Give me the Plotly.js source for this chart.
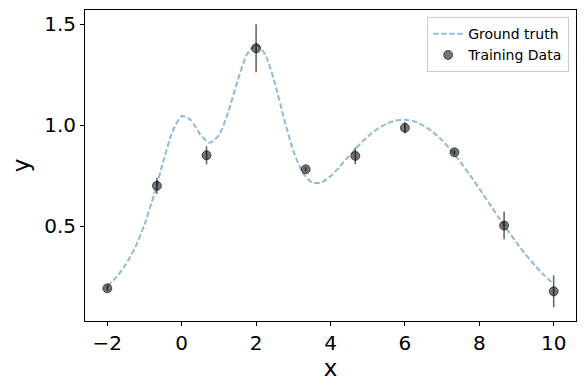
<!DOCTYPE html>
<html>
<head>
<meta charset="utf-8">
<script src="https://cdn.plot.ly/plotly-3.0.1.min.js"></script>
<style>html,body{margin:0;padding:0;background:#fff}#plot{width:586px;height:390px}</style>
</head>
<body>
<div id="plot"></div>
<script>
// Ground truth curve
var truthX = [-2,-1.75,-1.5,-1.25,-1,-0.75,-0.5,-0.25,0,0.25,0.5,0.75,1,1.25,1.5,1.75,2,2.25,2.5,2.75,3,3.25,3.5,3.75,4,4.25,4.5,4.75,5,5.25,5.5,5.75,6,6.25,6.5,6.75,7,7.25,7.5,7.75,8,8.25,8.5,8.75,9,9.25,9.5,9.75,10];
var truthY = [0.202,0.249,0.311,0.395,0.508,0.651,0.817,0.968,1.046,1.025,0.954,0.913,0.950,1.065,1.219,1.350,1.402,1.349,1.211,1.034,0.874,0.766,0.716,0.716,0.747,0.795,0.848,0.898,0.943,0.980,1.007,1.023,1.027,1.019,0.998,0.967,0.925,0.874,0.816,0.753,0.686,0.617,0.549,0.482,0.419,0.359,0.305,0.256,0.212];

// Training data with error bars
var trainX = [-2,-0.667,0.667,2,3.333,4.667,6,7.333,8.667,10];
var trainY = [0.192,0.700,0.851,1.381,0.782,0.848,0.987,0.866,0.503,0.177];
var trainErr = [0.012,0.040,0.045,0.119,0.010,0.041,0.028,0.012,0.068,0.079];

var xTicks = [-2,0,2,4,6,8,10];
var xTickText = ['\u22122','0','2','4','6','8','10'];
var yTicks = [0.5,1.0,1.5];
var yTickText = ['0.5','1.0','1.5'];

var font = 'DejaVu Sans, sans-serif';

var traces = [
  {
    x: truthX, y: truthY, type: 'scatter', mode: 'lines', name: 'Ground truth',
    line: {color: 'rgba(31,119,180,0.5)', width: 2, dash: '5.5px,2.6px', shape: 'spline', smoothing: 0.6}
  },
  {
    x: trainX, y: trainY, type: 'scatter', mode: 'markers', name: 'Training Data',
    marker: {color: 'rgba(0,0,0,0.55)', size: 9, line: {color: 'rgba(0,0,0,0.55)', width: 1}},
    error_y: {type: 'data', array: trainErr, visible: true, color: 'rgba(0,0,0,0.6)', thickness: 1.6, width: 0}
  }
];

var layout = {
  width: 586, height: 390,
  margin: {l: 85, r: 10, t: 10, b: 69, pad: 0},
  paper_bgcolor: '#fff', plot_bgcolor: '#fff',
  font: {family: font, color: '#000'},
  showlegend: true,
  legend: {
    x: 0.986, y: 0.977, xanchor: 'right', yanchor: 'top',
    bgcolor: 'rgba(255,255,255,0.8)', bordercolor: '#cccccc', borderwidth: 1,
    font: {family: font, size: 14, color: '#000'},
    tracegroupgap: 0
  },
  xaxis: {
    range: [-2.6, 10.6], tickmode: 'array', tickvals: xTicks, ticktext: xTickText,
    showgrid: false, zeroline: false, showline: true, linecolor: '#000', linewidth: 1, mirror: true,
    ticks: 'outside', ticklen: 4, tickwidth: 1, tickcolor: '#000',
    tickfont: {family: font, size: 20, color: '#000'},
    title: {text: 'x', font: {family: font, size: 23, color: '#000'}, standoff: 5}
  },
  yaxis: {
    range: [0.03, 1.571], tickmode: 'array', tickvals: yTicks, ticktext: yTickText,
    showgrid: false, zeroline: false, showline: true, linecolor: '#000', linewidth: 1, mirror: true,
    ticks: 'outside', ticklen: 4, tickwidth: 1, tickcolor: '#000',
    tickfont: {family: font, size: 20, color: '#000'},
    title: {text: 'y', font: {family: font, size: 23, color: '#000'}, standoff: 8}
  }
};

Plotly.newPlot('plot', traces, layout, {staticPlot: true, displayModeBar: false});
</script>
</body>
</html>
